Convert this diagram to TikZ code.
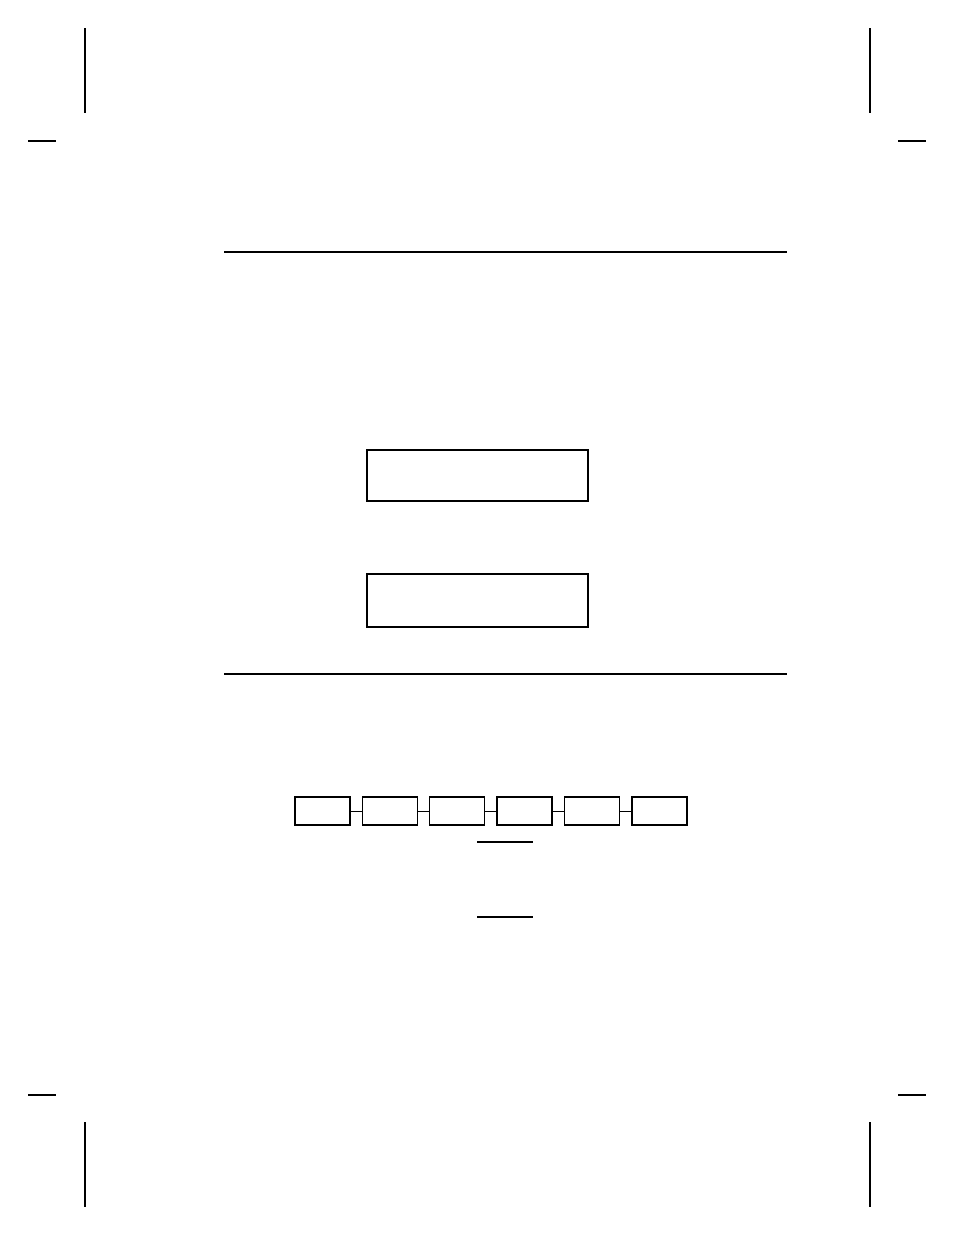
\documentclass[tikz,border=0pt]{standalone}
\usetikzlibrary{positioning}
\tikzset{
      form box/.style={
		draw,
		line width=2.1bp,
		inner sep=0pt,
		minimum width=221.5bp,
		minimum height={#1},
	  },
      field box/.style={
		draw,
		line width=1.4bp,
		inner sep=0pt,
		outer sep=0pt,
		minimum width=55bp,
		minimum height=28bp,
	  },
  		crop mark/.style={
    	line width=2.2bp,
      },
  		rule/.style={
    	line width=1.2bp,
      }
  	}
\begin{document}
\begin{tikzpicture}[x=1bp, y=-1bp, node distance=12.4bp]
    \useasboundingbox (0,0) rectangle (954,1235);
    % crop marks
    \draw [line width=1.6bp] (85,28) -- (85,113) (870,28) -- (870,113);
    \draw [line width=1.6bp] (85,1122) -- (85,1207) (870,1122) -- (870,1207);
    \draw [crop mark] (28,141) -- (56,141) (898,141) -- (926,141);
    \draw [crop mark] (28,1095) -- (56,1095) (898,1095) -- (926,1095);
    % rules
    \draw [rule] (224,252) -- (787,252);
    \draw [rule] (224,674) -- (787,674);
    % display boxes
    \node [form box=50.5bp] (top) at (477.4,475.6) {};
    \node [form box=53bp] (bottom) at (477.4,600.2) {};
    % fields
    \node [field box] (f1) at (322.3,811) {};
    \node [field box, right=of f1] (f2) {};
    \node [field box, right=of f2] (f3) {};
    \node [field box, right=of f3] (f4) {};
    \node [field box, right=of f4] (f5) {};
    \node [field box, right=of f5] (f6) {};
    \draw [line width=1bp] (f1) -- (f2) (f2) -- (f3) (f3) -- (f4) (f4) -- (f5) (f5) -- (f6);
    % blanks
    \draw [line width=2bp] (477,842) -- (533,842);
    \draw [line width=1.1bp] (477,917) -- (533,917);
  \end{tikzpicture}
\end{document}
